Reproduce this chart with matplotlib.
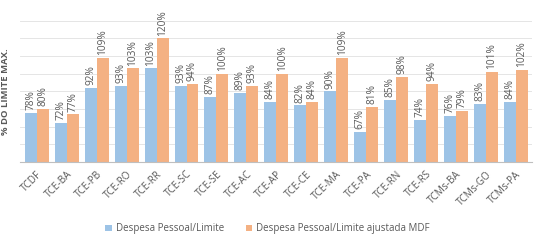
import matplotlib.pyplot as plt
import numpy as np

plt.rcParams['font.family'] = ['Open Sans', 'DejaVu Sans']

orgaos = ['TCDF', 'TCE-BA', 'TCE-PB', 'TCE-RO', 'TCE-RR', 'TCE-SC', 'TCE-SE',
          'TCE-AC', 'TCE-AP', 'TCE-CE', 'TCE-MA', 'TCE-PA', 'TCE-RN', 'TCE-RS',
          'TCMs-BA', 'TCMs-GO', 'TCMs-PA']
despesa_limite = [78, 72, 92, 93, 103, 93, 87, 89, 84, 82, 90, 67, 85, 74, 76, 83, 84]
despesa_mdf = [80, 77, 109, 103, 120, 94, 100, 93, 100, 84, 109, 81, 98, 94, 79, 101, 102]

azul = '#9DC3E6'
laranja = '#F4B183'
cinza = '#595959'

fig = plt.figure(figsize=(5.35, 2.41), dpi=100)
ax = fig.add_axes([0.038, 0.328, 0.957, 0.586])

x = np.arange(len(orgaos))
w = 0.4
b1 = ax.bar(x - w / 2, despesa_limite, w, color=azul, label='Despesa Pessoal/Limite', zorder=2)
b2 = ax.bar(x + w / 2, despesa_mdf, w, color=laranja,
            label='Despesa Pessoal/Limite ajustada MDF', zorder=2)

# rótulos de valor na vertical, acima de cada barra
for bars, vals in ((b1, despesa_limite), (b2, despesa_mdf)):
    for r, v in zip(bars, vals):
        ax.annotate(f'{v}%', (r.get_x() + r.get_width() / 2, v), xytext=(0, 2),
                    textcoords='offset points', rotation=90, ha='center', va='bottom',
                    fontsize=7.3, color=cinza)

ax.set_ylim(50, 130)
ax.set_xlim(-0.55, len(orgaos) - 0.45)
ax.set_yticks(np.arange(50, 131, 10))
ax.set_yticklabels([])
ax.tick_params(axis='y', length=0)
ax.tick_params(axis='x', length=0, pad=5)
ax.grid(axis='y', color='#E5E5E5', linewidth=0.7, zorder=0)
ax.set_xticks(x)
ax.set_xticklabels(orgaos, rotation=45, ha='right', rotation_mode='anchor',
                   fontsize=7.2, color=cinza)
for s in ('top', 'right', 'left'):
    ax.spines[s].set_visible(False)
ax.spines['bottom'].set_color('#BFBFBF')

ax.set_ylabel('% DO LIMITE MÁX.', fontsize=6.8, fontweight='bold', color=cinza, labelpad=4)

fig.legend(handles=[b1, b2], loc='center', bbox_to_anchor=(0.5, 0.05), ncol=2,
           frameon=False, fontsize=7, handlelength=0.7, handleheight=0.7,
           columnspacing=2.2, handletextpad=0.4, labelcolor=cinza)

fig.savefig('out.png', dpi=100)
